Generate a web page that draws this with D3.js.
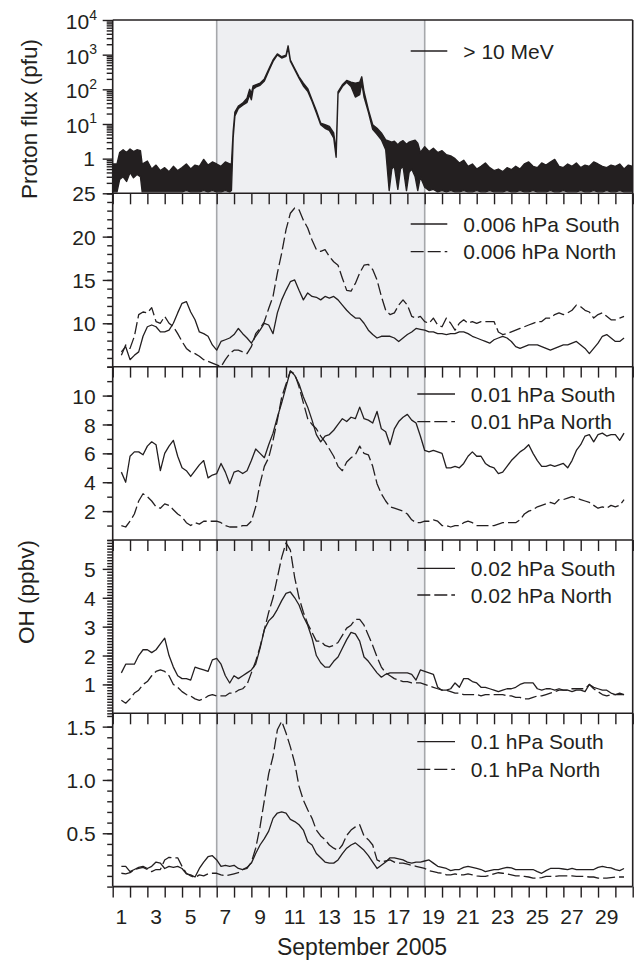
<!DOCTYPE html>
<html><head><meta charset="utf-8">
<script src="https://cdn.jsdelivr.net/npm/d3@7/dist/d3.min.js"></script>
<style>
body{margin:0;background:#fff}
svg{display:block}
text{font-family:"Liberation Sans",Arial,Helvetica,sans-serif;fill:#231f20}
</style></head>
<body><svg id="chart" width="638" height="962"></svg>
<script>
// ---------- DATA ----------
const tickDays = [1,2,3,4,5,6,7,8,9,10,11,12,13,14,15,16,17,18,19,20,21,22,23,24,25,26,27,28,29,30,31];
const labelDays = [1,3,5,7,9,11,13,15,17,19,21,23,25,27,29];
const eventStart = 7, eventEnd = 19;

// Proton flux > 10 MeV (pfu): upper and lower envelope of the dense 5-min record
const pDay = [1.0,1.25,1.4,1.6,1.8,2.0,2.2,2.4,2.6,2.7,
  3.0,3.25,3.5,3.75,4.0,4.25,4.5,4.75,5.0,5.25,5.5,5.75,6.0,6.25,6.5,6.75,7.0,7.25,7.5,7.75,
  7.85,7.95,8.05,8.25,8.5,8.75,8.9,9.0,9.1,9.25,9.5,9.75,10.0,10.25,10.5,10.75,11.0,11.12,11.25,11.5,11.75,
  12.0,12.25,12.5,12.75,13.0,13.25,13.5,13.75,13.89,14.0,14.25,14.5,14.75,15.0,15.25,15.37,15.5,15.75,
  16.0,16.25,16.5,16.75,16.95,17.1,17.25,17.45,17.6,17.75,17.95,18.1,18.25,18.45,18.6,18.75,
  19.0,19.25,19.5,19.75,20.0,20.25,20.5,20.75,
  21.0,21.25,21.5,21.75,22.0,22.25,22.5,22.75,23.0,23.25,23.5,23.75,24.0,24.25,24.5,24.75,
  25.0,25.25,25.5,25.75,26.0,26.25,26.5,26.75,27.0,27.25,27.5,27.75,28.0,28.25,28.5,28.75,
  29.0,29.25,29.5,29.75,30.0,30.25,30.5,30.75,31.0];
const pHi = [0.7,0.7,1.5,1.8,1.5,1.9,1.6,1.8,1.7,0.7,
  0.85,0.5,0.65,0.45,0.55,0.42,0.6,0.45,0.55,0.7,0.5,0.65,0.6,0.95,0.65,0.8,0.7,0.6,0.8,0.7,
  0.7,6,22,33,40,55,100,75,125,135,150,200,380,700,1050,870,960,1800,700,400,230,
  150,105,50,24,10.5,9.5,8.5,5.5,1.6,85,135,180,160,150,160,230,85,26,
  9.5,7.5,5.5,3.5,3.2,3.0,3.2,2.5,3.0,3.3,2.6,3.0,3.2,3.4,2.8,1.5,
  2.2,1.6,2.0,1.5,1.7,1.3,1.2,1.0,
  0.75,0.9,0.6,0.7,0.5,0.6,0.75,0.55,0.45,0.5,0.42,0.55,0.48,0.6,0.5,0.7,
  0.8,0.6,0.55,0.75,0.65,0.8,0.95,0.6,0.55,0.7,0.6,0.75,0.55,0.65,0.6,0.8,
  0.7,0.6,0.55,0.65,0.6,0.7,0.5,0.65,0.6];
const pLo = [0.11,0.11,0.25,0.3,0.22,0.4,0.28,0.35,0.3,0.11,
  0.11,0.11,0.11,0.11,0.11,0.11,0.11,0.11,0.11,0.12,0.11,0.11,0.11,0.12,0.11,0.12,0.11,0.11,0.12,0.11,
  0.12,4,17,28,35,42,70,50,100,115,130,175,340,640,980,800,900,1600,650,370,210,
  125,88,45,21,9.5,7.5,6.5,4,1.1,75,120,160,120,60,70,150,60,22,
  7,5,3.5,1.8,0.12,0.5,0.6,0.13,0.5,0.6,0.12,0.4,0.5,0.3,0.12,0.3,
  0.15,0.12,0.13,0.11,0.12,0.11,0.12,0.11,
  0.11,0.12,0.11,0.11,0.12,0.11,0.11,0.12,0.11,0.11,0.11,0.12,0.11,0.11,0.12,0.11,
  0.11,0.12,0.11,0.11,0.11,0.12,0.11,0.11,0.12,0.11,0.11,0.11,0.12,0.11,0.11,0.12,
  0.11,0.11,0.12,0.11,0.11,0.12,0.11,0.11,0.11];

// OH time axis (days of September 2005, values every 6 h)
const ohDay = [1.5,1.75,
  2,2.25,2.5,2.75, 3,3.25,3.5,3.75, 4,4.25,4.5,4.75, 5,5.25,5.5,5.75, 6,6.25,6.5,6.75,
  7,7.25,7.5,7.75, 8,8.25,8.5,8.75, 9,9.25,9.5,9.75, 10,10.25,10.5,10.75, 11,11.25,11.5,11.75,
  12,12.25,12.5,12.75, 13,13.25,13.5,13.75, 14,14.25,14.5,14.75, 15,15.25,15.5,15.75,
  16,16.25,16.5,16.75, 17,17.25,17.5,17.75, 18,18.25,18.5,18.75, 19,19.25,19.5,19.75,
  20,20.25,20.5,20.75, 21,21.25,21.5,21.75, 22,22.25,22.5,22.75, 23,23.25,23.5,23.75,
  24,24.25,24.5,24.75, 25,25.25,25.5,25.75, 26,26.25,26.5,26.75, 27,27.25,27.5,27.75,
  28,28.25,28.5,28.75, 29,29.25,29.5,29.75, 30,30.25,30.5];

// OH (ppbv) at 0.006 hPa
const oh006South = [6.7,7.3,
  5.8,6.3,6.7,8.5, 9.6,9.8,9.6,9.0, 9.0,9.2,10.0,11.2, 12.3,12.5,11.3,10.4, 9.0,8.8,8.5,7.5,
  6.9,7.9,8.1,8.3, 8.7,9.4,8.8,8.3, 7.7,8.5,9.2,10.0, 9.8,8.8,11.2,12.7, 13.8,14.8,15.0,13.8,
  12.7,13.5,13.1,13.0, 12.7,13.1,12.9,13.1, 12.7,12.1,11.5,11.0, 10.6,10.6,10.0,9.2,
  8.7,8.3,8.5,8.5, 8.5,8.3,7.9,8.3, 8.7,9.0,9.4,9.3, 9.2,9.0,9.0,8.8,
  8.8,8.7,8.8,8.8, 9.0,9.0,8.8,8.5, 8.3,8.1,7.9,7.7, 8.1,8.3,8.5,8.3,
  7.9,7.3,7.1,7.3, 7.5,7.5,7.5,7.3, 7.1,6.9,7.1,7.3, 7.5,7.5,7.7,7.9,
  7.5,7.1,6.5,7.1, 7.7,8.5,8.7,8.3, 7.9,7.9,8.3];
const oh006North = [6.3,7.5,
  7.1,8.5,11.0,11.3, 11.2,11.8,10.2,10.0, 10.8,10.0,9.6,8.8, 7.9,7.1,6.7,6.5, 6.2,5.8,5.6,5.4,
  5.2,5.0,5.8,6.5, 6.9,6.9,6.7,6.5, 7.3,8.8,9.4,10.2, 11.7,13.1,15.8,18.1, 20.8,22.7,23.3,23.1,
  21.9,21.0,19.6,18.5, 18.3,18.5,17.7,17.1, 16.7,15.2,13.8,13.7, 14.6,15.8,16.7,16.8,
  16.2,15.0,13.1,11.5, 11.0,11.2,12.1,12.7, 12.1,10.8,10.6,10.8, 10.2,10.0,10.6,9.8,
  9.6,10.6,10.0,9.2, 10.0,10.4,10.0,10.2, 10.0,10.2,10.2,10.2, 10.2,9.0,8.7,8.8,
  9.0,9.2,9.4,9.6, 9.8,10.0,10.2,10.2, 10.6,10.6,11.0,11.2, 11.0,11.2,11.5,12.1,
  11.9,11.5,11.3,10.6, 11.0,11.2,10.8,10.4, 10.4,10.6,10.8];

// OH (ppbv) at 0.01 hPa
const oh01South = [4.7,4.0,
  5.8,6.1,6.1,5.9, 6.5,6.8,6.6,4.8, 6.0,6.5,6.9,5.8, 5.0,4.8,4.4,4.8, 5.2,5.5,4.3,4.5,
  4.6,5.3,4.7,3.9, 4.7,4.8,4.6,4.8, 5.5,6.3,6.0,5.7, 6.6,7.4,8.5,9.5, 10.6,11.7,11.4,10.8,
  9.9,9.2,8.3,7.3, 6.8,7.2,7.3,7.6, 8.0,8.4,8.2,8.5, 8.4,9.2,8.4,8.3,
  8.1,8.9,7.7,7.5, 6.6,7.7,8.2,8.5, 8.7,8.3,8.1,7.2, 6.2,6.1,6.2,6.1,
  6.0,5.0,5.0,5.1, 5.0,5.3,5.8,6.1, 5.8,5.8,5.3,5.1, 5.0,4.6,4.7,5.1,
  5.5,5.8,6.1,6.3, 6.6,6.0,5.5,5.1, 5.1,5.2,5.1,5.2, 5.3,5.0,5.5,6.2,
  6.6,7.2,7.3,6.8, 7.3,7.4,7.2,7.3, 7.3,6.9,7.4];
const oh01North = [1.0,0.9,
  1.3,1.8,2.7,3.2, 3.0,2.7,2.3,2.2, 2.5,2.4,2.1,1.8, 1.6,1.2,1.0,1.2, 1.1,1.3,1.3,1.3,
  1.3,1.2,1.0,0.9, 0.9,0.9,1.0,1.0, 1.3,2.3,3.9,5.1, 5.7,6.9,8.3,9.9, 10.8,11.7,11.5,10.6,
  9.5,8.4,8.0,7.7, 7.2,6.8,6.3,5.8, 5.1,4.8,5.4,5.7, 5.9,6.5,6.0,5.9,
  5.1,3.9,3.2,2.7, 2.3,2.2,2.1,2.0, 1.8,1.4,1.2,1.2, 1.3,1.3,1.4,1.3,
  1.0,1.0,0.9,1.0, 1.0,1.2,1.3,1.2, 1.0,1.0,1.0,1.0, 1.0,1.1,1.2,1.2,
  1.2,1.2,1.4,1.8, 2.0,2.1,2.3,2.4, 2.5,2.6,2.5,2.8, 2.8,2.9,3.0,2.9,
  2.8,2.7,2.6,2.4, 2.2,2.3,2.2,2.4, 2.3,2.4,2.8];

// OH (ppbv) at 0.02 hPa
const oh02South = [1.4,1.7,
  1.7,1.7,2.0,2.2, 2.2,2.1,2.2,2.4, 2.6,2.0,1.6,1.3, 1.2,1.2,1.15,1.6, 1.55,1.5,1.45,1.85,
  1.9,1.7,1.3,1.05, 1.3,1.2,1.3,1.4, 1.5,1.7,2.25,2.9, 3.2,3.35,3.6,3.9, 4.15,4.2,4.0,3.75,
  3.35,3.05,2.6,2.0, 1.75,1.6,1.6,1.8, 1.95,2.25,2.55,2.8, 2.75,2.5,1.95,1.8,
  1.6,1.4,1.25,1.35, 1.4,1.4,1.4,1.4, 1.4,1.35,1.15,1.5, 1.45,1.4,1.35,0.9,
  0.8,0.8,0.85,1.05, 0.9,1.2,1.2,1.1, 1.05,0.9,0.9,0.85, 0.8,0.75,0.8,0.85,
  0.85,0.9,1.0,1.05, 1.05,1.05,0.85,0.8, 0.85,0.85,0.8,0.85, 0.8,0.8,0.75,0.8,
  0.8,0.75,1.0,0.9, 0.85,0.8,0.8,0.7, 0.65,0.7,0.65];
const oh02North = [0.45,0.35,
  0.5,0.7,0.8,1.0, 1.1,1.3,1.45,1.5, 1.45,1.3,1.0,0.9, 0.75,0.65,0.6,0.5, 0.45,0.5,0.6,0.65,
  0.6,0.6,0.6,0.7, 0.7,0.8,0.85,1.0, 1.4,1.8,2.3,2.9, 3.5,4.0,4.7,5.4, 5.9,5.65,4.7,4.0,
  3.5,3.1,2.8,2.5, 2.5,2.35,2.3,2.35, 2.45,2.7,2.95,3.05, 3.25,3.25,3.05,2.7,
  2.35,1.95,1.6,1.4, 1.3,1.2,1.15,1.1, 1.1,1.05,1.05,1.05, 1.0,0.95,0.9,0.85,
  0.8,0.8,0.75,0.7, 0.7,0.65,0.65,0.65, 0.65,0.6,0.65,0.65, 0.65,0.65,0.65,0.6,
  0.6,0.55,0.55,0.5, 0.5,0.55,0.6,0.6, 0.65,0.7,0.75,0.8, 0.8,0.8,0.85,0.85,
  0.85,0.85,1.0,0.85, 0.75,0.65,0.6,0.65, 0.65,0.65,0.65];

// OH (ppbv) at 0.1 hPa
const oh1South = [0.19,0.19,
  0.14,0.16,0.18,0.19, 0.17,0.19,0.23,0.22, 0.17,0.19,0.18,0.19, 0.17,0.12,0.11,0.09, 0.17,0.23,0.28,0.29,
  0.25,0.19,0.2,0.19, 0.2,0.17,0.16,0.18, 0.22,0.31,0.39,0.45, 0.52,0.64,0.69,0.7, 0.69,0.63,0.61,0.58,
  0.53,0.42,0.39,0.31, 0.27,0.23,0.22,0.22, 0.25,0.31,0.36,0.39, 0.41,0.375,0.34,0.29,
  0.23,0.17,0.2,0.23, 0.27,0.27,0.26,0.25, 0.23,0.22,0.23,0.23, 0.24,0.25,0.22,0.19,
  0.18,0.17,0.15,0.16, 0.16,0.18,0.19,0.18, 0.17,0.16,0.14,0.15, 0.16,0.16,0.17,0.18,
  0.175,0.16,0.16,0.16, 0.16,0.16,0.14,0.125, 0.15,0.17,0.17,0.17, 0.165,0.16,0.17,0.16,
  0.16,0.16,0.16,0.16, 0.18,0.19,0.18,0.175, 0.16,0.15,0.17];
const oh1North = [0.125,0.12,
  0.13,0.16,0.17,0.18, 0.16,0.14,0.16,0.16, 0.25,0.275,0.27,0.27, 0.19,0.125,0.1,0.085, 0.11,0.1,0.12,0.125,
  0.125,0.11,0.1,0.11, 0.12,0.13,0.16,0.17, 0.23,0.36,0.56,0.81, 1.06,1.22,1.47,1.55, 1.44,1.31,1.16,0.94,
  0.81,0.72,0.64,0.53, 0.475,0.44,0.39,0.36, 0.34,0.39,0.48,0.53, 0.56,0.58,0.475,0.44,
  0.39,0.25,0.23,0.24, 0.25,0.23,0.22,0.22, 0.21,0.2,0.19,0.18, 0.17,0.15,0.14,0.13,
  0.125,0.11,0.11,0.12, 0.11,0.11,0.12,0.11, 0.1,0.095,0.095,0.105, 0.12,0.13,0.125,0.12,
  0.11,0.1,0.1,0.095, 0.09,0.08,0.08,0.085, 0.095,0.095,0.095,0.1, 0.1,0.1,0.1,0.095,
  0.095,0.095,0.09,0.09, 0.08,0.08,0.08,0.085, 0.09,0.09,0.09];

const protonLegend = ["> 10 MeV"];
const ohLegends = [
  ["0.006 hPa South","0.006 hPa North"],
  ["0.01 hPa South","0.01 hPa North"],
  ["0.02 hPa South","0.02 hPa North"],
  ["0.1 hPa South","0.1 hPa North"]];
const logTickValues = [1,10,100,1000,10000];
const ohMajorTicks = [[10,15,20,25],[2,4,6,8,10],[1,2,3,4,5],[0.5,1.0,1.5]];

// ---------- LAYOUT ----------
const INK = "#231f20";
const svg = d3.select("#chart");
const xL = 112.7, xR = 632.7;
const x = d3.scaleLinear().domain([1,31]).range([xL,xR]);
const tops = [20,193.3,366.7,540,713.3];
const ph = 173.3;

const yP = d3.scaleLog().domain([0.1,1e4]).range([tops[0]+ph,tops[0]]);
const yOH = [
  d3.scaleLinear().domain([5,25]).range([tops[1]+ph,tops[1]]),
  d3.scaleLinear().domain([0,12]).range([tops[2]+ph,tops[2]]),
  d3.scaleLinear().domain([0,6]).range([tops[3]+ph,tops[3]]),
  d3.scaleLinear().domain([0,1.625]).range([tops[4]+ph,tops[4]])];
const minorSteps = [1,1,0.1,0.1];
const ohSeries = [[oh006South,oh006North],[oh01South,oh01North],[oh02South,oh02North],[oh1South,oh1North]];

const defs = svg.append("defs");
tops.forEach((t,i)=>{
  defs.append("clipPath").attr("id","clip"+i).append("rect")
    .attr("x",xL).attr("y",t).attr("width",xR-xL).attr("height",ph);
});

// event shading
svg.append("rect").attr("x",x(eventStart)).attr("y",tops[0])
  .attr("width",x(eventEnd)-x(eventStart)).attr("height",tops[4]+ph-tops[0])
  .attr("fill","#eeeff2");
[eventStart,eventEnd].forEach(d=>{
  svg.append("line").attr("x1",x(d)).attr("x2",x(d)).attr("y1",tops[0]).attr("y2",tops[4]+ph)
    .attr("stroke","#a6a8ab").attr("stroke-width",1.6);
});

// proton flux
const pData = pDay.map((d,i)=>({t:d,hi:pHi[i],lo:pLo[i]}));
const gP = svg.append("g").attr("clip-path","url(#clip0)");
gP.append("path").datum(pData)
  .attr("d",d3.area().x(d=>x(d.t)).y0(d=>yP(d.lo)).y1(d=>yP(d.hi)))
  .attr("fill",INK).attr("stroke",INK).attr("stroke-width",1.4).attr("stroke-linejoin","round");

// OH series
ohSeries.forEach((pair,k)=>{
  const g = svg.append("g").attr("clip-path",`url(#clip${k+1})`);
  pair.forEach((vals,j)=>{
    g.append("path").datum(vals)
      .attr("d",d3.line().x((d,i)=>x(ohDay[i])).y(d=>yOH[k](d)))
      .attr("fill","none").attr("stroke",INK).attr("stroke-width",1.3)
      .attr("stroke-linejoin","round")
      .attr("stroke-dasharray", j===1 ? "12,4" : null);
  });
});

// axes
function styleAxis(g){
  g.select(".domain").remove();
  g.selectAll(".tick line").attr("stroke",INK).attr("stroke-width",1.4);
  g.selectAll(".tick text").attr("fill",INK).style("font-size","21px")
    .style("font-family",'"Liberation Sans",Arial,sans-serif');
}
tops.forEach(t=>{
  svg.append("g").attr("transform",`translate(0,${t+ph})`)
    .call(d3.axisBottom(x).tickValues(tickDays).tickSize(11).tickFormat(""))
    .call(styleAxis);
});
svg.append("g").selectAll("text").data(labelDays).join("text")
  .attr("x",d=>x(d+0.5)).attr("y",tops[4]+ph+37)
  .attr("text-anchor","middle").style("font-size","21px").text(d=>d);

// panel 1 log axis
const minorLog = yP.ticks().filter(v=>!logTickValues.includes(v));
svg.append("g").attr("transform",`translate(${xL},0)`)
  .call(d3.axisLeft(yP).tickValues(minorLog).tickSize(6).tickFormat("")).call(styleAxis);
svg.append("g").attr("transform",`translate(${xL},0)`)
  .call(d3.axisLeft(yP).tickValues(logTickValues).tickSize(10).tickFormat("")).call(styleAxis);
logTickValues.forEach(v=>{
  const e = Math.round(Math.log10(v));
  const tx = svg.append("text").attr("text-anchor","end").style("font-size","21px");
  if(e===0){
    tx.attr("x",95).attr("y",yP(v)+7.6).text("1");
  } else {
    tx.attr("x",97).attr("y",yP(v)+9);
    tx.append("tspan").text("10");
    tx.append("tspan").attr("dy",-9.5).style("font-size","14px").text(e);
  }
});

// OH panels y axes
yOH.forEach((y,k)=>{
  const [d0,d1] = y.domain();
  const minor = d3.range(Math.round(d0/minorSteps[k]), Math.round(d1/minorSteps[k])+1)
    .map(i=>+(i*minorSteps[k]).toFixed(3)).filter(v=>v>=d0&&v<=d1);
  svg.append("g").attr("transform",`translate(${xL},0)`)
    .call(d3.axisLeft(y).tickValues(minor).tickSize(5.5).tickFormat("")).call(styleAxis);
  const fmt = k===3 ? d3.format(".1f") : d3.format("d");
  const ga = svg.append("g").attr("transform",`translate(${xL},0)`)
    .call(d3.axisLeft(y).tickValues(ohMajorTicks[k]).tickSize(10).tickPadding(7).tickFormat(fmt))
    .call(styleAxis);
  ga.selectAll(".tick text").attr("dy","0.36em");
});

// frame lines
const fr = svg.append("g").attr("stroke",INK).attr("stroke-width",1.6).attr("fill","none");
fr.append("line").attr("x1",xL).attr("x2",xL).attr("y1",tops[0]).attr("y2",tops[4]+ph);
fr.append("line").attr("x1",xR).attr("x2",xR).attr("y1",tops[0]).attr("y2",tops[4]+ph);
tops.concat([tops[4]+ph]).forEach(t=>{
  fr.append("line").attr("x1",xL).attr("x2",xR).attr("y1",t).attr("y2",t);
});

// legends
function legendRow(x1,x2,tx,y,label,dashed){
  svg.append("line").attr("x1",x1).attr("x2",x2).attr("y1",y).attr("y2",y)
    .attr("stroke",INK).attr("stroke-width",1.3).attr("stroke-dasharray",dashed?"13,4":null);
  svg.append("text").attr("x",tx).attr("y",y).attr("dy","0.36em")
    .style("font-size","21px").text(label);
}
legendRow(410.7,447.3,463.3,51,protonLegend[0],false);
const legY = [[224,251.7],[394,421.7],[568.3,595],[741.7,769.3]];
ohLegends.forEach((labs,k)=>{
  const lx1 = k===0 ? 410.7 : 417.3, lx2 = k===0 ? 447.3 : 455, tx = k===0 ? 463.3 : 470.7;
  legendRow(lx1,lx2,tx,legY[k][0],labs[0],false);
  legendRow(lx1,lx2,tx,legY[k][1],labs[1],true);
});

// axis titles
svg.append("text").attr("transform","translate(29,119) rotate(-90)")
  .attr("text-anchor","middle").attr("dy","0.35em").style("font-size","22.5px").text("Proton flux (pfu)");
svg.append("text").attr("transform","translate(26,592) rotate(-90)")
  .attr("text-anchor","middle").attr("dy","0.35em").style("font-size","22.5px").text("OH (ppbv)");
svg.append("text").attr("x",362).attr("y",955).attr("text-anchor","middle")
  .style("font-size","23px").text("September 2005");
</script>
</body></html>
